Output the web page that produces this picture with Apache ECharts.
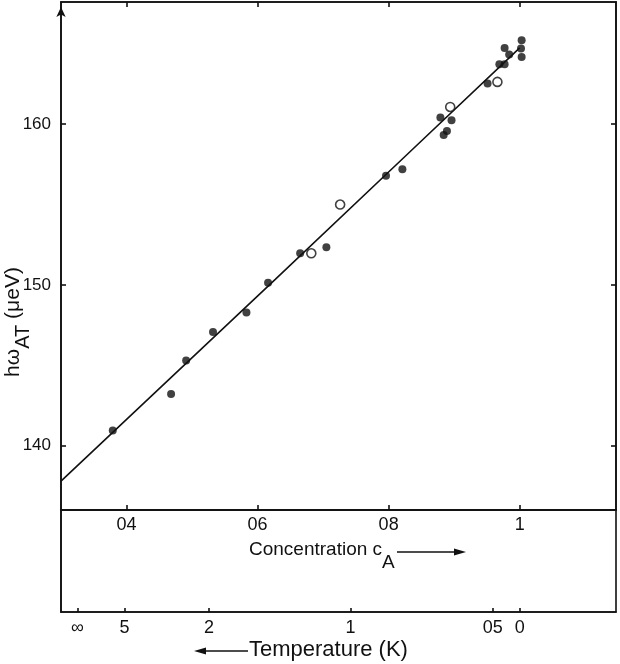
<!DOCTYPE html>
<html><head><meta charset="utf-8">
<script src="https://cdn.jsdelivr.net/npm/echarts@6/dist/echarts.min.js"></script>
<style>html,body{margin:0;padding:0;background:#fff}#c{width:620px;height:664px}</style>
</head><body><div id="c"></div>
<script>
// Measured data (concentration c_A, energy hω_AT in μeV)
const filledC = [0.379, 0.468, 0.491, 0.532, 0.583, 0.616, 0.665, 0.705, 0.796, 0.821, 0.879, 0.896, 0.889, 0.884, 0.951, 0.969, 0.977, 0.977, 0.984, 1.003, 1.002, 1.003];
const filledE = [140.95, 143.21, 145.30, 147.08, 148.28, 150.14, 151.97, 152.34, 156.79, 157.20, 160.42, 160.25, 159.58, 159.32, 162.53, 163.73, 163.73, 164.74, 164.33, 165.22, 164.70, 164.18];
const openC = [0.682, 0.726, 0.894, 0.966];
const openE = [151.97, 155.00, 161.07, 162.63];
const fitC = [0.300, 0.627, 0.833, 1.000];
const fitE = [137.80, 150.35, 158.30, 164.75];
const concTicks = [0.4, 0.6, 0.8, 1.0];
const concTickLabels = ['04', '06', '08', '1'];
const energyTicks = [140, 150, 160];
const energyTickLabels = ['140', '150', '160'];
const tempTickPos = [0.325, 0.397, 0.526, 0.742, 0.959, 1.0];
const tempTickLabels = ['\u221e', '5', '2', '1', '05', '0'];

const FONT = 'Liberation Sans, Arial, sans-serif';
const INK = '#111';
const cMin = 0.3, cMax = 1.147, eMin = 136, eMax = 167.6;

function lab(vals, labels) {
  return function (v) {
    for (let i = 0; i < vals.length; i++) if (Math.abs(vals[i] - v) < 1e-6) return labels[i];
    return '';
  };
}
const pairs = (a, b) => a.map((x, i) => [x, b[i]]);

const chart = echarts.init(document.getElementById('c'), null, {renderer: 'canvas'});
const lineStyle = {color: INK, width: 1.6};
const tickFont = {color: INK, fontFamily: FONT, fontSize: 18};
chart.setOption({
  animation: false,
  backgroundColor: '#fff',
  grid: [
    {left: 61, top: 2, width: 555, height: 508, show: true, borderColor: INK, borderWidth: 1.6, backgroundColor: 'transparent'},
    {left: 61, top: 510, width: 555, height: 102, show: true, borderColor: INK, borderWidth: 1.6, backgroundColor: 'transparent'}
  ],
  xAxis: [
    {gridIndex: 0, type: 'value', min: cMin, max: cMax, position: 'bottom',
     axisLine: {show: true, lineStyle: lineStyle},
     axisTick: {show: true, inside: true, length: 5, lineStyle: lineStyle, customValues: concTicks},
     axisLabel: Object.assign({show: true, customValues: concTicks, formatter: lab(concTicks, concTickLabels), margin: 6}, tickFont),
     splitLine: {show: false}},
    {gridIndex: 0, type: 'value', min: cMin, max: cMax, position: 'top',
     axisLine: {show: true, lineStyle: lineStyle},
     axisTick: {show: true, inside: true, length: 5, lineStyle: lineStyle, customValues: concTicks},
     axisLabel: {show: false}, splitLine: {show: false}},
    {gridIndex: 1, type: 'value', min: cMin, max: cMax, position: 'bottom',
     axisLine: {show: true, lineStyle: lineStyle},
     axisTick: {show: true, inside: true, length: 4, lineStyle: lineStyle, customValues: tempTickPos},
     axisLabel: Object.assign({show: true, customValues: tempTickPos, formatter: lab(tempTickPos, tempTickLabels), margin: 7}, tickFont),
     splitLine: {show: false}}
  ],
  yAxis: [
    {gridIndex: 0, type: 'value', min: eMin, max: eMax, position: 'left',
     axisLine: {show: true, lineStyle: lineStyle, symbol: ['none', 'arrow'], symbolSize: [7, 10], symbolOffset: [0, -5]},
     axisTick: {show: true, inside: true, length: 5, lineStyle: lineStyle, customValues: energyTicks},
     axisLabel: Object.assign({show: true, customValues: energyTicks, formatter: lab(energyTicks, energyTickLabels), margin: 10}, tickFont, {fontSize: 17}),
     splitLine: {show: false}},
    {gridIndex: 0, type: 'value', min: eMin, max: eMax, position: 'right',
     axisLine: {show: true, lineStyle: lineStyle},
     axisTick: {show: true, inside: true, length: 5, lineStyle: lineStyle, customValues: energyTicks},
     axisLabel: {show: false}, splitLine: {show: false}},
    {gridIndex: 1, type: 'value', min: 0, max: 1, position: 'left',
     axisLine: {show: true, lineStyle: lineStyle}, axisTick: {show: false}, axisLabel: {show: false}, splitLine: {show: false}}
  ],
  series: [
    {type: 'line', xAxisIndex: 0, yAxisIndex: 0, data: pairs(fitC, fitE), showSymbol: false, symbol: 'none',
     lineStyle: {color: INK, width: 1.6}, silent: true, z: 2},
    {type: 'scatter', xAxisIndex: 0, yAxisIndex: 0, data: pairs(filledC, filledE), symbol: 'circle', symbolSize: 8,
     itemStyle: {color: INK}, z: 3},
    {type: 'scatter', xAxisIndex: 0, yAxisIndex: 0, data: pairs(openC, openE), symbol: 'circle', symbolSize: 9,
     itemStyle: {color: '#fff', borderColor: INK, borderWidth: 1.6}, z: 4}
  ],
  graphic: [
    {type: 'text', left: 249, top: 540, style: {
      text: '{m|Concentration c}{s|A}', fill: INK,
      rich: {m: {fontFamily: FONT, fontSize: 19, fill: INK, lineHeight: 22, verticalAlign: 'top'},
             s: {fontFamily: FONT, fontSize: 19, fill: INK, lineHeight: 32, verticalAlign: 'bottom'}}}},
    {type: 'line', shape: {x1: 397, y1: 552, x2: 456, y2: 552}, style: {stroke: INK, lineWidth: 1.6}},
    {type: 'polygon', shape: {points: [[466, 552], [454, 548.5], [454, 555.5]]}, style: {fill: INK}},
    {type: 'polygon', shape: {points: [[194, 651], [206, 647.5], [206, 654.5]]}, style: {fill: INK}},
    {type: 'line', shape: {x1: 204, y1: 651, x2: 248, y2: 651}, style: {stroke: INK, lineWidth: 1.6}},
    {type: 'text', left: 249, top: 639, style: {text: 'Temperature (K)', fill: INK, fontFamily: FONT, fontSize: 22}},
    {type: 'text', x: 18, y: 322, rotation: Math.PI / 2, style: {
      text: '{m|hω}{s|AT}{m| (μeV)}', fill: INK, align: 'center', verticalAlign: 'middle',
      rich: {m: {fontFamily: FONT, fontSize: 21, fill: INK, lineHeight: 22, verticalAlign: 'top'},
             s: {fontFamily: FONT, fontSize: 20, fill: INK, lineHeight: 31, verticalAlign: 'bottom'}}}}
  ]
});
</script></body></html>
